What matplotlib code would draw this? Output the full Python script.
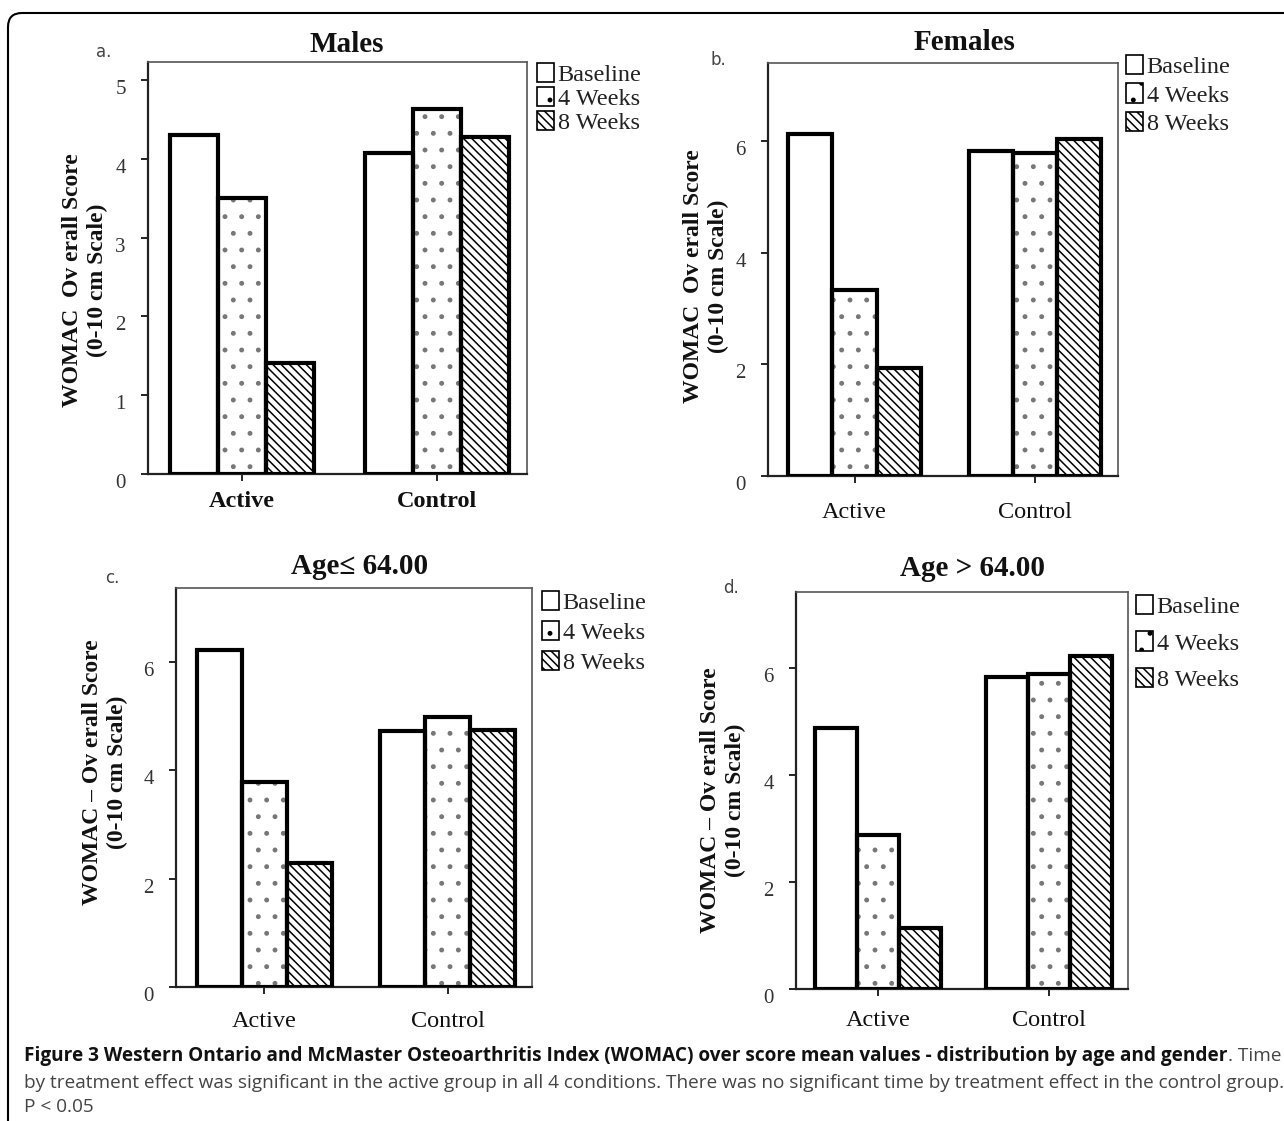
import numpy as np
import matplotlib
matplotlib.use('Agg')
import matplotlib.pyplot as plt
from matplotlib.patches import Patch, FancyBboxPatch
from matplotlib.transforms import IdentityTransform

groups = ['Active', 'Control']
series_names = ['Baseline', '4 Weeks', '8 Weeks']

males_baseline = [4.30, 4.08]
males_4wk = [3.50, 4.63]
males_8wk = [1.41, 4.28]

females_baseline = [6.12, 5.82]
females_4wk = [3.34, 5.78]
females_8wk = [1.94, 6.03]

young_baseline = [6.22, 4.73]
young_4wk = [3.78, 4.98]
young_8wk = [2.29, 4.75]

old_baseline = [4.87, 5.83]
old_4wk = [2.88, 5.88]
old_8wk = [1.14, 6.22]

W, H = 1284, 1121
SERIF = ['Liberation Serif', 'DejaVu Serif']
hatches = ['', '.', '\\\\\\\\']
hatch_colors = ['black', '#777777', 'black']

plt.rcParams['font.family'] = SERIF
plt.rcParams['hatch.linewidth'] = 1.1

fig = plt.figure(figsize=(W / 100, H / 100), dpi=100)


def px_axes(left, top, right, bottom):
    return fig.add_axes([left / W, 1 - bottom / H, (right - left) / W, (bottom - top) / H])


def draw_panel(box, values, ymax, yticks, title, title_xy, letter, letter_xy,
               ylabel, ylabel_xy, legend_xy, legend_gap, bold_x, xpad):
    ax = px_axes(*box)
    x = np.arange(len(groups))
    w = 0.245
    for i, vals in enumerate(values):
        # pattern fill first, then the heavy black outline on top
        ax.bar(x + (i - 1) * w, vals, w, facecolor='white', edgecolor=hatch_colors[i],
               linewidth=0, hatch=hatches[i], zorder=3)
        ax.bar(x + (i - 1) * w, vals, w, facecolor='none', edgecolor='black',
               linewidth=3, zorder=4)
    ax.set_xlim(-0.48, 1.46)
    ax.set_ylim(0, ymax)
    ax.set_yticks(yticks)
    ax.set_xticks(x)
    ax.set_xticklabels(groups, fontsize=17.5, color='#111',
                       fontweight='bold' if bold_x else 'normal')
    ax.tick_params(axis='y', direction='out', length=5, width=1.2, pad=11,
                   labelsize=15, labelcolor='#333')
    ax.tick_params(axis='x', direction='out', length=5, width=1.2, pad=xpad)
    for lab in ax.get_yticklabels():
        lab.set_va('top')
    for side in ['left', 'bottom']:
        ax.spines[side].set_linewidth(1.6)
        ax.spines[side].set_color('#222')
    for side in ['top', 'right']:
        ax.spines[side].set_linewidth(1.2)
        ax.spines[side].set_color('#555')

    fig.text(title_xy[0] / W, 1 - title_xy[1] / H, title, ha='center', va='center',
             fontsize=21, fontweight='bold', color='#111')
    fig.text(letter_xy[0] / W, 1 - letter_xy[1] / H, letter, ha='center', va='center',
             fontsize=12, color='#444', family='DejaVu Sans')
    fig.text(ylabel_xy[0] / W, 1 - ylabel_xy[1] / H, ylabel, rotation=90,
             ha='center', va='center', fontsize=17, fontweight='bold',
             linespacing=1.2, multialignment='center', color='#111')

    handles = [Patch(facecolor='white', edgecolor='black', linewidth=1.2, hatch=h)
               for h in hatches]
    ax.legend(handles, series_names, loc='upper left',
              bbox_to_anchor=(legend_xy[0] / W, 1 - legend_xy[1] / H),
              bbox_transform=fig.transFigure, frameon=False,
              prop=dict(family=SERIF, size=17.5), labelcolor='#222',
              handlelength=0.7, handleheight=0.85, handletextpad=0.15,
              labelspacing=legend_gap, borderpad=0, borderaxespad=0)
    return ax


draw_panel((148, 62, 527, 474), [males_baseline, males_4wk, males_8wk], 5.23,
           [0, 1, 2, 3, 4, 5], 'Males', (347, 44), 'a.', (104, 52),
           'WOMAC  Ov erall Score\n(0-10 cm Scale)', (85, 280),
           (537, 63), 0.03, True, 7)

draw_panel((768, 63, 1118, 476), [females_baseline, females_4wk, females_8wk], 7.4,
           [0, 2, 4, 6], 'Females', (965, 42), 'b.', (718, 60),
           'WOMAC  Ov erall Score\n(0-10 cm Scale)', (706, 276),
           (1126, 55), 0.22, False, 14)

draw_panel((176, 588, 532, 987), [young_baseline, young_4wk, young_8wk], 7.37,
           [0, 2, 4, 6], 'Age\u2264 64.00', (360, 567), 'c.', (112, 578),
           'WOMAC \u2013 Ov erall Score\n(0-10 cm Scale)', (105, 772),
           (542, 591), 0.28, False, 12)

draw_panel((796, 592, 1128, 989), [old_baseline, old_4wk, old_8wk], 7.42,
           [0, 2, 4, 6], 'Age > 64.00', (972, 569), 'd.', (731, 588),
           'WOMAC \u2013 Ov erall Score\n(0-10 cm Scale)', (723, 800),
           (1136, 595), 0.55, False, 10)

# caption
renderer = fig.canvas.get_renderer()
cap_bold = ('Figure 3 Western Ontario and McMaster Osteoarthritis Index (WOMAC) '
            'over score mean values - distribution by age and gender')
cap_rest = '. Time'
line2 = ('by treatment effect was significant in the active group in all 4 conditions. '
         'There was no significant time by treatment effect in the control group.')
line3 = 'P < 0.05'

x0 = 24
t1 = fig.text(x0 / W, 1 - 1056 / H, cap_bold, ha='left', va='center', fontsize=13,
              fontweight='bold', family='Open Sans', color='#111')
t1b = fig.text(0, 1 - 1056 / H, cap_rest, ha='left', va='center', fontsize=13,
               family='Open Sans', color='#444')
t2 = fig.text(x0 / W, 1 - 1083 / H, line2, ha='left', va='center', fontsize=13,
              family='Open Sans', color='#444')
t3 = fig.text(x0 / W, 1 - 1107 / H, line3, ha='left', va='center', fontsize=13,
              family='Open Sans', color='#444')

w1 = t1.get_window_extent(renderer).width + t1b.get_window_extent(renderer).width
s1 = 13 * (1254 / w1)
w2 = t2.get_window_extent(renderer).width
s2 = 13 * (1256 / w2)
size = min(s1, s2)
for t in (t1, t1b, t2, t3):
    t.set_fontsize(size)
wb = t1.get_window_extent(renderer).width
t1b.set_x((x0 + wb) / W)

frame = FancyBboxPatch((8, -30), 1320, H - 13 + 30,
                       boxstyle='round,pad=0,rounding_size=14',
                       transform=IdentityTransform(), facecolor='none',
                       edgecolor='black', linewidth=1.5)
fig.patches.append(frame)

fig.savefig('out.png', dpi=100)
